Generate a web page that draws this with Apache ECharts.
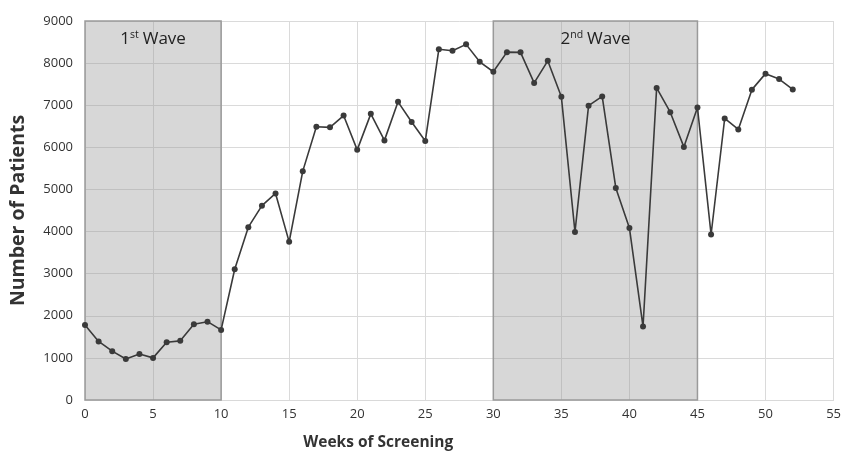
<!DOCTYPE html>
<html>
<head>
<meta charset="utf-8">
<script src="https://cdn.jsdelivr.net/npm/echarts@6/dist/echarts.min.js"></script>
<style>html,body{margin:0;padding:0;background:#fff}#c{width:844px;height:456px}</style>
</head>
<body>
<div id="c"></div>
<script>
const weeks = [0,1,2,3,4,5,6,7,8,9,10,11,12,13,14,15,16,17,18,19,20,21,22,23,24,25,26,27,28,29,30,31,32,33,34,35,36,37,38,39,40,41,42,43,44,45,46,47,48,49,50,51,52];
const patients = [1780,1390,1160,975,1090,1000,1370,1405,1800,1860,1665,3105,4105,4615,4905,3755,5435,6490,6475,6755,5940,6795,6165,7080,6600,6150,8330,8295,8445,8030,7795,8260,8255,7530,8055,7200,3990,6990,7210,5035,4085,1745,7410,6835,6010,6945,3930,6685,6425,7370,7750,7620,7375];
const waves = [
  {from: 0, to: 10, num: '1', sup: 'st', name: 'Wave'},
  {from: 30, to: 45, num: '2', sup: 'nd', name: 'Wave'}
];
const xTicks = {min: 0, max: 55, interval: 5};
const yTicks = {min: 0, max: 9000, interval: 1000};
const xTitle = 'Weeks of Screening';
const yTitle = 'Number of Patients';

const font = '"Open Sans", "Noto Sans", sans-serif';
const chart = echarts.init(document.getElementById('c'), null, {renderer: 'canvas'});
chart.setOption({
  animation: false,
  backgroundColor: '#fff',
  grid: {left: 85, right: 9, top: 21, bottom: 54},
  xAxis: {
    type: 'value', min: xTicks.min, max: xTicks.max, interval: xTicks.interval,
    name: xTitle, nameLocation: 'middle', nameGap: 35,
    nameTextStyle: {fontFamily: font, fontWeight: 'bold', fontSize: 15.5, color: '#333', padding: [0, 162, 0, 0]},
    axisLine: {show: true, lineStyle: {color: '#d9d9d9'}},
    axisTick: {show: false},
    axisLabel: {fontFamily: font, fontSize: 13, color: '#333', margin: 8},
    splitLine: {show: true, lineStyle: {color: '#dadada', width: 1}}
  },
  yAxis: {
    type: 'value', min: yTicks.min, max: yTicks.max, interval: yTicks.interval,
    name: yTitle, nameLocation: 'middle', nameGap: 57,
    nameTextStyle: {fontFamily: font, fontWeight: 'bold', fontSize: 19.5, color: '#333'},
    axisLine: {show: false},
    axisTick: {show: false},
    axisLabel: {fontFamily: font, fontSize: 13, color: '#333', margin: 12, formatter: v => String(v)},
    splitLine: {show: true, lineStyle: {color: '#dadada', width: 1}}
  },
  series: [{
    type: 'line',
    data: weeks.map((w, i) => [w, patients[i]]),
    symbol: 'circle', symbolSize: 6,
    itemStyle: {color: '#3a3a3a'},
    lineStyle: {color: '#3a3a3a', width: 1.6},
    z: 5,
    markArea: {
      silent: true,
      itemStyle: {color: 'rgba(150,150,150,0.38)', borderColor: '#9a9a9a', borderWidth: 1.5},
      label: {
        show: true, position: 'insideTop', distance: 9,
        formatter: p => p.name,
        rich: {
          n: {fontFamily: font, fontSize: 17, color: '#222'},
          s: {fontFamily: font, fontSize: 10.5, color: '#222', verticalAlign: 'top', padding: [0, 4, 8, 0]},
          w: {fontFamily: font, fontSize: 17, color: '#222'}
        }
      },
      data: waves.map(wv => [
        {name: '{n|' + wv.num + '}{s|' + wv.sup + '}{w|' + wv.name + '}', xAxis: wv.from, yAxis: yTicks.max},
        {xAxis: wv.to, yAxis: yTicks.min}
      ])
    }
  }]
});
</script>
</body>
</html>
